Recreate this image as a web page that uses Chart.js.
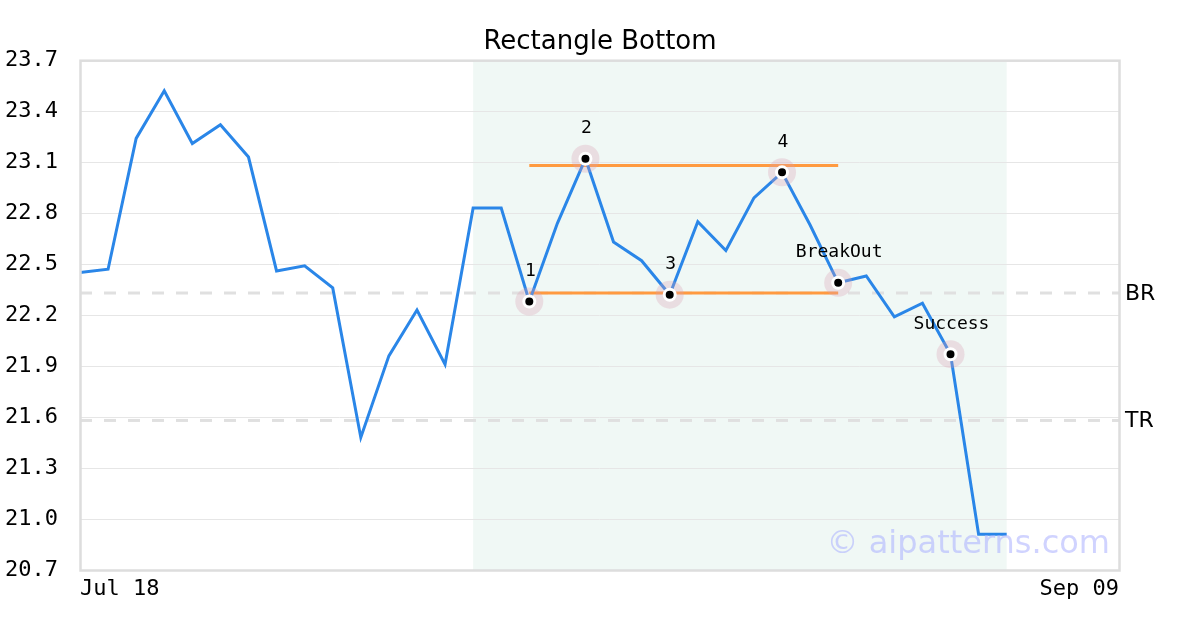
<!DOCTYPE html>
<html>
<head>
<meta charset="utf-8">
<script src="https://cdn.jsdelivr.net/npm/chart.js@4.4.0/dist/chart.umd.min.js"></script>
<style>
  html, body { margin: 0; padding: 0; background: #fff; }
  #wrap { width: 1200px; height: 630px; }
</style>
</head>
<body>
<div id="wrap"><canvas id="patternChart" width="1200" height="630"></canvas></div>
<script>
// price series, one value per trading day from Jul 18
const prices = [22.45, 22.47, 23.24, 23.52, 23.21, 23.32, 23.13, 22.46, 22.49, 22.36,
                21.48, 21.96, 22.23, 21.91, 22.83, 22.83, 22.28, 22.74, 23.12, 22.63,
                22.52, 22.32, 22.75, 22.58, 22.89, 23.04, 22.73, 22.39, 22.43, 22.19,
                22.27, 21.97, 20.91, 20.91];
const lastIndex = 37;
const xTickPos = [0, 37];
const xTickLabels = ['Jul 18', 'Sep 09'];
const yTicks = [20.7, 21.0, 21.3, 21.6, 21.9, 22.2, 22.5, 22.8, 23.1, 23.4, 23.7];

// pattern points
const markerIdx = [16, 18, 21, 25, 27, 31];
const markerLabels = ['1', '2', '3', '4', 'BreakOut', 'Success'];
const patternStart = 14, patternEnd = 33;
const topLine = [16, 27, 23.08];
const bottomLine = [16, 27, 22.33];
const refLevels = [22.33, 21.58];
const refLabels = ['BR', 'TR'];

const ctx = document.getElementById('patternChart').getContext('2d');

const markerData = markerIdx.map(i => ({ x: i, y: prices[i] }));

const patternPlugin = {
    id: 'patternPlugin',
    beforeDraw(chart) {
        const { ctx, chartArea, scales } = chart;
        const x1 = scales.x.getPixelForValue(patternStart);
        const x2 = scales.x.getPixelForValue(patternEnd);
        ctx.save();
        ctx.fillStyle = '#f0f8f5';
        ctx.fillRect(x1, chartArea.top, x2 - x1, chartArea.bottom - chartArea.top);
        ctx.restore();
    },
    afterDatasetsDraw(chart) {
        const { ctx, chartArea, scales } = chart;
        // marker labels
        const meta = chart.getDatasetMeta(chart.data.datasets.length - 1);
        ctx.save();
        ctx.setLineDash([]);
        ctx.fillStyle = '#000';
        ctx.font = '18px "DejaVu Sans Mono"';
        ctx.textAlign = 'center';
        ctx.textBaseline = 'middle';
        meta.data.forEach((pt, i) => {
            ctx.fillText(markerLabels[i], pt.x + 1, pt.y - 30);
        });
        // BR / TR labels
        ctx.font = '22px "DejaVu Sans"';
        ctx.textAlign = 'left';
        refLevels.forEach((v, i) => {
            ctx.fillText(refLabels[i], chartArea.right + 6, scales.y.getPixelForValue(v) + 1);
        });
        ctx.restore();
    },
    afterDraw(chart) {
        const { ctx, chartArea } = chart;
        ctx.save();
        ctx.setLineDash([]);
        ctx.strokeStyle = '#dddddd';
        ctx.lineWidth = 2.5;
        ctx.strokeRect(chartArea.left + 0.5, chartArea.top + 0.5,
                       chartArea.right - chartArea.left, chartArea.bottom - chartArea.top);
        ctx.fillStyle = 'rgba(170, 175, 255, 0.55)';
        ctx.font = '32px "DejaVu Sans"';
        ctx.textAlign = 'right';
        ctx.textBaseline = 'alphabetic';
        ctx.fillText('\u00a9 aipatterns.com', chartArea.right - 9, chartArea.bottom - 17);
        ctx.restore();
    }
};

// higher order is drawn first (underneath)
const refDatasets = refLevels.map(v => ({
    data: [{ x: 0, y: v }, { x: lastIndex, y: v }],
    borderColor: '#e0e0e0',
    borderWidth: 3,
    borderDash: [12, 12],
    pointRadius: 0,
    order: 10
}));

new Chart(ctx, {
    type: 'line',
    data: {
        datasets: [
            ...refDatasets,
            {
                data: [{ x: topLine[0], y: topLine[2] }, { x: topLine[1], y: topLine[2] }],
                borderColor: '#ff9a40',
                borderWidth: 3,
                borderDash: [],
                pointRadius: 0,
                order: 8
            },
            {
                data: [{ x: bottomLine[0], y: bottomLine[2] }, { x: bottomLine[1], y: bottomLine[2] }],
                borderColor: '#ff9a40',
                borderWidth: 3,
                borderDash: [],
                pointRadius: 0,
                order: 8
            },
            {
                data: prices.map((p, i) => ({ x: i, y: p })),
                borderColor: '#2a86e8',
                borderWidth: 3,
                borderDash: [],
                pointRadius: 0,
                tension: 0,
                order: 6
            },
            {
                data: markerData,
                showLine: false,
                borderDash: [],
                pointRadius: 14,
                pointBackgroundColor: 'rgba(220, 160, 180, 0.3)',
                pointBorderWidth: 0,
                order: 4
            },
            {
                data: markerData,
                showLine: false,
                borderDash: [],
                pointRadius: 5.5,
                pointBackgroundColor: '#000',
                pointBorderColor: '#fff',
                pointBorderWidth: 3,
                order: 2
            }
        ]
    },
    options: {
        responsive: false,
        animation: false,
        layout: { padding: 0 },
        plugins: {
            legend: { display: false },
            tooltip: { enabled: false },
            title: {
                display: true,
                text: 'Rectangle Bottom',
                color: '#000',
                font: { family: 'DejaVu Sans', size: 26, weight: 'normal' },
                padding: { top: 27, bottom: 2 }
            }
        },
        scales: {
            x: {
                type: 'linear',
                min: 0,
                max: lastIndex,
                grid: { display: false, drawTicks: false },
                border: { display: false },
                afterBuildTicks(scale) {
                    scale.ticks = xTickPos.map(v => ({ value: v }));
                },
                afterFit(scale) { scale.height = 60; },
                ticks: {
                    autoSkip: false,
                    maxRotation: 0,
                    align: 'inner',
                    padding: 6,
                    color: '#000',
                    font: { family: 'DejaVu Sans Mono', size: 22 },
                    callback(v) {
                        const k = xTickPos.indexOf(v);
                        return k >= 0 ? xTickLabels[k] : '';
                    }
                }
            },
            y: {
                min: yTicks[0],
                max: yTicks[yTicks.length - 1],
                grid: { color: '#e6e6e6', lineWidth: 1, drawTicks: false },
                border: { display: false },
                afterBuildTicks(scale) {
                    scale.ticks = yTicks.map(v => ({ value: v }));
                },
                afterFit(scale) { scale.width = 80; },
                ticks: {
                    padding: 22,
                    color: '#000',
                    font: { family: 'DejaVu Sans Mono', size: 22 },
                    callback(v) { return v.toFixed(1); }
                }
            },
            // empty right-hand axis to reserve room for the BR / TR labels
            yRight: {
                position: 'right',
                min: yTicks[0],
                max: yTicks[yTicks.length - 1],
                grid: { display: false, drawTicks: false },
                border: { display: false },
                ticks: { display: false },
                afterFit(scale) { scale.width = 81; }
            }
        }
    },
    plugins: [patternPlugin]
});
</script>
</body>
</html>
